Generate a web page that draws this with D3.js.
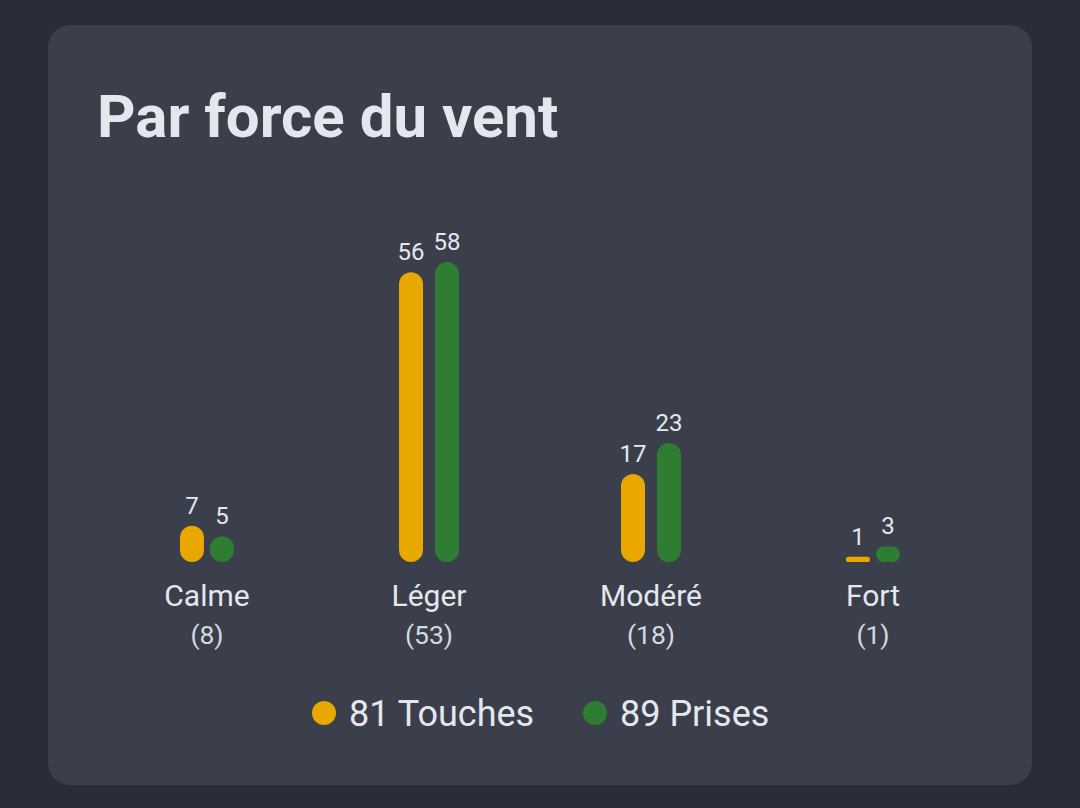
<!DOCTYPE html>
<html>
<head>
<meta charset="utf-8">
<script src="https://cdn.jsdelivr.net/npm/d3@7"></script>
<style>
  html, body { margin: 0; padding: 0; background: #292d37; }
  svg { display: block; font-family: Roboto, "Noto Sans", sans-serif; }
</style>
</head>
<body>
<div id="chart"></div>
<script>
// chart values
const categories = ['Calme', 'Léger', 'Modéré', 'Fort'];
const counts = [8, 53, 18, 1];
const touches = [7, 56, 17, 1];
const prises = [5, 58, 23, 3];
const seriesNames = ['Touches', 'Prises'];
const seriesColors = ['#e8a800', '#2e7d32'];

const width = 1080,
    height = 808,
    card = {x: 48, y: 25, w: 984, h: 760, r: 22},
    baseline = 562,
    barW = 24;

let svg = d3.select('#chart').append('svg')
    .attr('width', width)
    .attr('height', height);

svg.append('rect')
    .attr('width', width)
    .attr('height', height)
    .attr('fill', '#292d37');

svg.append('rect')
    .attr('x', card.x)
    .attr('y', card.y)
    .attr('width', card.w)
    .attr('height', card.h)
    .attr('rx', card.r)
    .attr('fill', '#3a3f4b');

svg.append('text')
    .attr('x', 97)
    .attr('y', 137)
    .attr('fill', '#e4e7ee')
    .attr('font-size', 60)
    .attr('font-weight', 700)
    .text('Par force du vent');

let xScale = d3.scaleBand()
    .domain(categories)
    .range([96, 984]);

let yScale = d3.scaleLinear()
    .domain([0, 58])
    .range([baseline, 262]);

let data = categories.map((c, i) => ({
    cat: c,
    count: counts[i],
    values: [touches[i], prises[i]]
}));

let groups = svg.selectAll('.group')
    .data(data)
    .join('g')
    .attr('class', 'group')
    .attr('transform', d => `translate(${xScale(d.cat) + xScale.bandwidth() / 2}, 0)`);

groups.each(function (d) {
    let g = d3.select(this);
    // measure value labels to space the two bars
    let labels = g.selectAll('.val')
        .data(d.values)
        .join('text')
        .attr('class', 'val')
        .attr('text-anchor', 'middle')
        .attr('font-size', 24)
        .attr('fill', '#e4e7ee')
        .text(v => v);
    let maxW = d3.max(labels.nodes(), n => n.getComputedTextLength());
    let spacing = Math.max(barW, maxW + 3) + 6;
    let offsets = [-spacing / 2, spacing / 2];

    labels
        .attr('x', (v, i) => offsets[i])
        .attr('y', v => yScale(v) - 12);

    g.selectAll('.bar')
        .data(d.values)
        .join('rect')
        .attr('class', 'bar')
        .attr('x', (v, i) => offsets[i] - barW / 2)
        .attr('y', v => yScale(v))
        .attr('width', barW)
        .attr('height', v => baseline - yScale(v))
        .attr('rx', v => Math.min(barW / 2, (baseline - yScale(v)) / 2))
        .attr('fill', (v, i) => seriesColors[i]);
});

groups.append('text')
    .attr('text-anchor', 'middle')
    .attr('y', 606)
    .attr('font-size', 30)
    .attr('fill', '#e4e7ee')
    .text(d => d.cat);

groups.append('text')
    .attr('text-anchor', 'middle')
    .attr('y', 644)
    .attr('font-size', 26.5)
    .attr('fill', '#d4d8e0')
    .text(d => `(${d.count})`);

// legend
let totals = [d3.sum(touches), d3.sum(prises)];
let legendX = [324, 595];

let legend = svg.selectAll('.legend')
    .data(seriesNames)
    .join('g')
    .attr('class', 'legend')
    .attr('transform', (d, i) => `translate(${legendX[i]}, 713)`);

legend.append('circle')
    .attr('r', 12)
    .attr('fill', (d, i) => seriesColors[i]);

legend.append('text')
    .attr('x', 25)
    .attr('y', 13)
    .attr('font-size', 36)
    .attr('fill', '#e4e7ee')
    .text((d, i) => `${totals[i]} ${d}`);
</script>
</body>
</html>
